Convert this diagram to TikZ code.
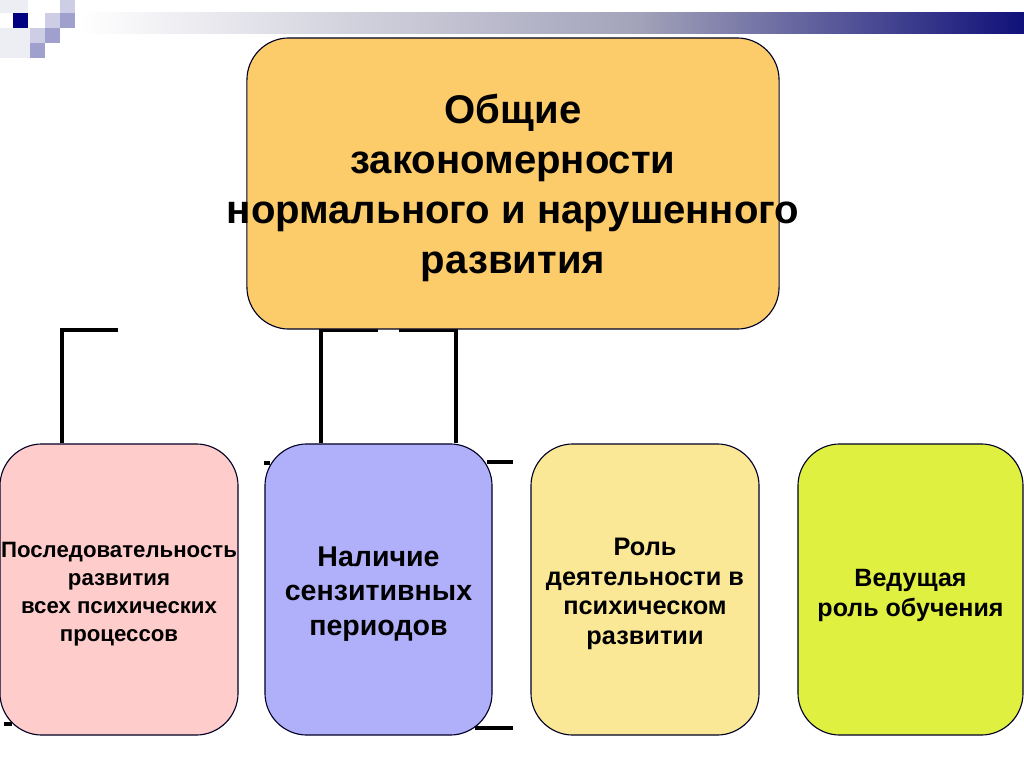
\documentclass[tikz,border=0pt]{standalone}
\usepackage{fontspec}
\setmainfont{Liberation Sans}
\usetikzlibrary{positioning, backgrounds}
\definecolor{mainorange}{HTML}{FDCC6A}
\definecolor{seqpink}{HTML}{FFCCCC}
\definecolor{sensblue}{HTML}{B0B0FA}
\definecolor{actyellow}{HTML}{FAE896}
\definecolor{teachlime}{HTML}{E0F040}
\definecolor{barnavy}{HTML}{10107A}
\definecolor{bargray}{HTML}{A2A2BA}
\definecolor{sqnavy}{HTML}{000080}
\definecolor{sqmid}{HTML}{A0A0CE}
\definecolor{sqlight}{HTML}{CDCDE6}
\definecolor{sqfaint}{HTML}{EDEDF4}

\begin{document}
\begin{tikzpicture}[x=0.025cm, y=-0.025cm,
    box/.style={draw=black!85!blue, line width=0.8pt, rounded corners=1.05cm,
                minimum height=7.275cm, inner sep=0pt},
    boxtext/.style={align=center, inner sep=0pt, yshift=-0.11cm},
    link/.style={line width=2.4pt}]
    \useasboundingbox (0,0) rectangle (1024,767);

    %Top decoration
    \fill[sqfaint] (0,0) rectangle (28,13);
    \fill[sqfaint] (0,28) rectangle (30,58);
    \fill[sqlight] (60,0) rectangle (75,13);
    \fill[sqnavy] (13,13) rectangle (28,28);
    \fill[sqlight] (45,13) rectangle (60,28);
    \fill[sqmid] (60,13) rectangle (75,28);
    \fill[sqlight] (30,28) rectangle (45,43);
    \fill[sqmid] (45,28) rectangle (60,43);
    \fill[sqmid] (30,43) rectangle (45,58);
    \shade[left color=white, right color=bargray] (80,13) rectangle (640,34);
    \shade[left color=bargray, right color=barnavy] (640,13) rectangle (1024,34);

    %Main box
    \node[box, fill=mainorange, minimum width=13.3cm] (main) at (513,183.5) {};
    \node[boxtext, font=\bfseries\fontsize{28.5}{35.6}\selectfont] (maintext) at (main.center)
        {Общие\\закономерности\\нормального и нарушенного\\развития};

    %Lower boxes
    \node[box, fill=seqpink, minimum width=5.95cm] (seq) at (119,589.5) {};
    \node[boxtext, font=\bfseries\fontsize{15.8}{19.9}\selectfont] (seqtext) at (seq.center)
        {Последовательность\\развития\\всех психических\\процессов};
    \node[box, fill=sensblue, minimum width=5.675cm] (sens) at (378.5,589.5) {};
    \node[boxtext, font=\bfseries\fontsize{20.3}{24.5}\selectfont] (senstext) at (sens.center)
        {Наличие\\сензитивных\\периодов};
    \node[box, fill=actyellow, minimum width=5.7cm] (act) at (645,589.5) {};
    \node[boxtext, font=\bfseries\fontsize{18}{21.3}\selectfont] (acttext) at (act.center)
        {Роль\\деятельности в\\психическом\\развитии};
    \node[box, fill=teachlime, minimum width=5.625cm] (teach) at (910.5,589.5) {};
    \node[boxtext, font=\bfseries\fontsize{17.8}{21.3}\selectfont] (teachtext) at ([yshift=-0.05cm]teach.center)
        {Ведущая\\роль обучения};

    %Connector lines
    \coordinate (lefttop) at (118,330);
    \coordinate (lcorner) at (62,330);
    \coordinate (mleft) at (321,330);
    \coordinate (mgapl) at (378,330);
    \coordinate (mgapr) at (399,330);
    \coordinate (mright) at (456,330);
    \coordinate (rtopa) at (487,462);
    \coordinate (rtopb) at (513,462);
    \coordinate (rbota) at (475,728);
    \coordinate (rbotb) at (513,728);
    \coordinate (stubla) at (264,463);
    \coordinate (stublb) at (270,463);
    \coordinate (stubba) at (4,724);
    \coordinate (stubbb) at (12,724);
    \begin{scope}[on background layer]
        \draw[link] (lefttop) -- (lcorner) -- (seq.north -| lcorner);
        \draw[link] (sens.north -| mleft) -- (mleft) -- (mgapl);
        \draw[link] (mgapr) -- (mright) -- (sens.north -| mright);
        \draw[link] (rtopa) -- (rtopb);
        \draw[link] (rbota) -- (rbotb);
        \draw[link] (stubla) -- (stublb);
        \draw[link] (stubba) -- (stubbb);
    \end{scope}
\end{tikzpicture}
\end{document}
